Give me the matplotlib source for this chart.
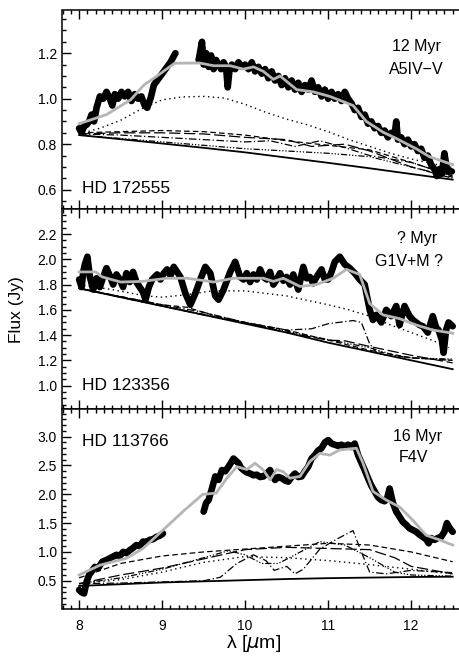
import numpy as np
import matplotlib
matplotlib.use("Agg")
import matplotlib.pyplot as plt
from matplotlib.ticker import MultipleLocator

plt.rcParams['font.family'] = ['Liberation Sans', 'DejaVu Sans']

nan = np.nan

# ---------------- HD 172555 (top) ----------------
top_wave = [8.00, 8.03, 8.06, 8.09, 8.12, 8.15, 8.18, 8.21, 8.25, 8.29, 8.33, 8.37, 8.40, 8.43,
            8.47, 8.51, 8.55, 8.59, 8.63, 8.67, 8.71, 8.75, 8.79, 8.82, 8.86, 8.90, 8.94, 8.98,
            9.02, 9.06, 9.10, 9.13, 9.16, nan,
            9.44, 9.46, 9.48, 9.50, 9.53, 9.56, 9.59, 9.62, 9.65, 9.68, 9.71, 9.74, 9.77, 9.79,
            9.81, 9.84, 9.88, 9.92, 9.96, 10.00, 10.04, 10.08, 10.12, 10.16, 10.20, 10.24, 10.28,
            10.32, 10.36, 10.40, 10.44, 10.48, 10.52, 10.56, 10.60, 10.64, 10.68, 10.72, 10.76,
            10.80, 10.84, 10.88, 10.92, 10.96, 11.00, 11.04, 11.08, 11.12, 11.16, 11.20, 11.24,
            11.28, 11.32, 11.36, 11.40, 11.44, 11.48, 11.52, 11.56, 11.60, 11.64, 11.68, 11.72,
            11.76, 11.80, 11.82, 11.84, 11.88, 11.92, 11.96, 12.00, 12.04, 12.08, 12.12, 12.16,
            12.20, 12.24, 12.28, 12.31, 12.34, 12.37, 12.40, 12.43, 12.46, 12.49]
top_flux = [0.87, 0.85, 0.88, 0.885, 0.90, 0.93, 0.90, 0.96, 1.01, 1.00, 1.03, 1.00, 0.97, 1.02,
            1.00, 1.03, 1.01, 1.03, 0.99, 1.02, 1.00, 1.01, 0.97, 0.96, 1.00, 1.06, 1.08, 1.10,
            1.12, 1.14, 1.16, 1.18, 1.20, nan,
            1.17, 1.21, 1.25, 1.15, 1.20, 1.14, 1.19, 1.13, 1.17, 1.15, 1.13, 1.16, 1.14, 1.05,
            1.12, 1.15, 1.13, 1.16, 1.14, 1.15, 1.13, 1.16, 1.12, 1.14, 1.11, 1.13, 1.09,
            1.12, 1.08, 1.10, 1.06, 1.09, 1.05, 1.08, 1.04, 1.07, 1.03, 1.06, 1.04,
            1.08, 1.03, 1.05, 1.01, 1.04, 1.00, 1.03, 1.00, 1.02, 0.99, 1.03, 1.00,
            0.98, 0.95, 0.96, 0.92, 0.93, 0.89, 0.90, 0.87, 0.88, 0.85, 0.86, 0.83,
            0.85, 0.84, 0.90, 0.82, 0.83, 0.80, 0.82, 0.79, 0.80, 0.77, 0.78, 0.74,
            0.75, 0.71, 0.69, 0.66, 0.69, 0.67, 0.76, 0.69, 0.68, 0.68]
top_model_wave = [8.0, 8.33, 8.62, 8.78, 8.94, 9.15, 9.45, 9.62, 9.82, 9.98, 10.1, 10.22, 10.34,
                  10.42, 10.62, 10.82, 11.02, 11.3, 11.46, 11.66, 11.82, 12.06, 12.22, 12.5]
top_model = [0.89, 0.93, 0.995, 1.06, 1.10, 1.156, 1.157, 1.145, 1.145, 1.13, 1.14, 1.12, 1.085,
             1.10, 1.04, 1.03, 1.01, 0.97, 0.90, 0.853, 0.825, 0.78, 0.745, 0.71]
top_solid_wave = [8.0, 8.5, 9.0, 9.5, 10.0, 10.5, 11.0, 11.5, 12.0, 12.5]
top_solid = [0.840, 0.822, 0.803, 0.784, 0.764, 0.741, 0.718, 0.694, 0.669, 0.644]
top_dot_wave = [8.0, 8.25, 8.5, 8.75, 9.0, 9.25, 9.5, 9.75, 10.0, 10.25, 10.5, 10.75, 11.0,
                11.25, 11.5, 11.75, 12.0, 12.25, 12.5]
top_dot = [0.845, 0.87, 0.905, 0.955, 0.995, 1.008, 1.01, 1.003, 0.975, 0.94, 0.91, 0.885,
           0.855, 0.82, 0.79, 0.76, 0.735, 0.715, 0.697]
top_dash_wave = [8.0, 8.5, 9.0, 9.5, 10.0, 10.5, 11.0, 11.5, 12.0, 12.5]
top_dash = [0.85, 0.855, 0.86, 0.855, 0.84, 0.815, 0.795, 0.775, 0.72, 0.66]
top_ldash_wave = [8.0, 8.5, 9.0, 9.5, 10.0, 10.5, 10.8, 11.2, 11.5, 12.0, 12.5]
top_ldash = [0.845, 0.85, 0.85, 0.845, 0.83, 0.82, 0.79, 0.80, 0.77, 0.70, 0.655]
top_dd_wave = [8.0, 8.5, 9.0, 9.5, 10.0, 10.3, 10.6, 10.9, 11.2, 11.5, 12.0, 12.5]
top_dd = [0.845, 0.84, 0.83, 0.82, 0.81, 0.815, 0.79, 0.815, 0.785, 0.75, 0.72, 0.66]
top_ddd_wave = [8.0, 8.5, 9.0, 9.5, 10.0, 10.5, 11.0, 11.5, 12.0, 12.5]
top_ddd = [0.84, 0.825, 0.81, 0.795, 0.78, 0.77, 0.76, 0.745, 0.70, 0.65]

# ---------------- HD 123356 (middle) ----------------
mid_wave = [8.00, 8.03, 8.05, 8.07, 8.10, 8.13, 8.17, 8.21, 8.25, 8.29, 8.33, 8.37, 8.41, 8.45,
            8.49, 8.53, 8.57, 8.61, 8.65, 8.69, 8.73, 8.77, 8.80, 8.84, 8.88, 8.94, 8.98, 9.02,
            9.06, 9.10, 9.14, 9.18, 9.22, 9.28, 9.34, 9.40, 9.46, 9.52, 9.58, 9.64, 9.68, 9.74,
            9.78, 9.82, 9.88, 9.94, 9.98, 10.02, 10.06, 10.10, 10.14, 10.18, 10.22, 10.26, 10.30,
            10.34, 10.38, 10.42, 10.46, 10.50, 10.54, 10.58, 10.64, 10.70, 10.74, 10.78, 10.82,
            10.86, 10.92, 10.96, 11.00, 11.04, 11.08, 11.14, 11.20, 11.26, 11.32, 11.38, 11.44,
            11.50, 11.54, 11.58, 11.64, 11.70, 11.76, 11.82, 11.86, 11.92, 11.98, 12.02, 12.06,
            12.10, 12.14, 12.20, 12.26, 12.30, 12.33, 12.37, 12.39, 12.42, 12.45, 12.50]
mid_flux = [1.84, 1.78, 1.90, 1.96, 2.02, 1.86, 1.76, 1.85, 1.78, 1.86, 1.93, 1.87, 1.80, 1.88,
            1.84, 1.78, 1.89, 1.82, 1.90, 1.82, 1.78, 1.74, 1.68, 1.78, 1.84, 1.88, 1.84, 1.89,
            1.92, 1.87, 1.94, 1.90, 1.86, 1.73, 1.64, 1.73, 1.84, 1.94, 1.89, 1.71, 1.68, 1.76,
            1.83, 1.90, 1.98, 1.86, 1.84, 1.89, 1.82, 1.88, 1.84, 1.92, 1.86, 1.84, 1.90,
            1.80, 1.84, 1.89, 1.83, 1.86, 1.80, 1.88, 1.76, 1.94, 1.85, 1.86, 1.81,
            1.86, 1.92, 1.84, 1.84, 1.90, 1.98, 2.02, 1.96, 1.93, 1.89, 1.84, 1.80,
            1.60, 1.52, 1.56, 1.50, 1.60, 1.55, 1.63, 1.48, 1.63, 1.55, 1.52, 1.50,
            1.48, 1.47, 1.42, 1.55, 1.46, 1.44, 1.36, 1.26, 1.44, 1.50, 1.47]
mid_model_wave = [8.0, 8.2, 8.28, 8.5, 8.76, 9.06, 9.3, 9.62, 9.86, 10.22, 10.34, 10.46, 10.66,
                  10.86, 11.06, 11.22, 11.38, 11.5, 11.66, 11.86, 12.06, 12.26, 12.5]
mid_model = [1.90, 1.90, 1.86, 1.82, 1.825, 1.85, 1.85, 1.82, 1.85, 1.85, 1.825, 1.85, 1.785,
             1.80, 1.85, 1.92, 1.88, 1.65, 1.56, 1.53, 1.48, 1.44, 1.415]
mid_solid_wave = [8.0, 8.5, 9.0, 9.5, 10.0, 10.5, 11.0, 11.5, 12.0, 12.5]
mid_solid = [1.77, 1.70, 1.63, 1.56, 1.49, 1.42, 1.34, 1.27, 1.20, 1.13]
mid_dot_wave = [8.0, 8.4, 8.8, 9.0, 9.3, 9.6, 10.0, 10.5, 11.0, 11.25, 11.5, 11.75, 12.0, 12.25, 12.45]
mid_dot = [1.80, 1.76, 1.71, 1.70, 1.72, 1.75, 1.75, 1.71, 1.64, 1.60, 1.55, 1.48, 1.42, 1.36, 1.30]
mid_dash_wave = [8.0, 9.0, 9.3, 9.6, 10.0, 10.5, 11.0, 11.5, 12.0, 12.5]
mid_dash = [1.77, 1.64, 1.62, 1.56, 1.50, 1.44, 1.36, 1.28, 1.22, 1.20]
mid_ldash_wave = [8.0, 9.0, 9.5, 10.0, 10.5, 11.0, 11.2, 11.5, 12.0, 12.5]
mid_ldash = [1.77, 1.63, 1.56, 1.50, 1.42, 1.36, 1.355, 1.31, 1.24, 1.18]
mid_dd_wave = [8.0, 9.0, 9.5, 10.0, 10.5, 10.8, 11.0, 11.3, 11.4, 11.5, 11.6, 12.0, 12.5]
mid_dd = [1.77, 1.64, 1.58, 1.50, 1.44, 1.45, 1.49, 1.515, 1.50, 1.33, 1.25, 1.22, 1.20]
mid_ddd_wave = [8.0, 9.0, 10.0, 10.8, 11.5, 11.8, 12.0, 12.5]
mid_ddd = [1.77, 1.63, 1.50, 1.39, 1.30, 1.24, 1.22, 1.21]

# ---------------- HD 113766 (bottom) ----------------
bot_wave = [8.00, 8.03, 8.06, 8.09, 8.12, 8.15, 8.19, 8.23, 8.28, 8.33, 8.37, 8.41, 8.45, 8.49,
            8.53, 8.57, 8.61, 8.65, 8.69, 8.73, 8.77, 8.81, 8.85, 8.89, 8.93, 8.97, 9.01, nan,
            9.50, 9.53, 9.56, 9.60, 9.64, 9.68, 9.72, 9.76, 9.80, 9.83, 9.86, 9.89, 9.92, 9.95,
            9.98, 10.02, 10.06, 10.10, 10.14, 10.18, 10.22, 10.26, 10.30, 10.33, 10.36, 10.40,
            10.44, 10.48, 10.52, 10.56, 10.60, 10.64, 10.68, 10.72, 10.76, 10.80, 10.84, 10.88,
            10.92, 10.96, 11.00, 11.04, 11.08, 11.12, 11.16, 11.20, 11.24, 11.28, 11.32, 11.36,
            11.40, 11.44, 11.48, 11.52, 11.56, 11.60, 11.64, 11.68, 11.71, 11.74, 11.78, 11.82,
            11.86, 11.90, 11.94, 11.98, 12.02, 12.06, 12.10, 12.14, 12.18, 12.21, 12.24, 12.28,
            12.32, 12.36, 12.40, 12.43, 12.46, 12.50]
bot_flux = [0.34, 0.30, 0.28, 0.48, 0.60, 0.66, 0.74, 0.72, 0.83, 0.86, 0.89, 0.92, 0.95, 0.93,
            1.00, 0.98, 1.03, 1.07, 1.12, 1.10, 1.18, 1.17, 1.21, 1.22, 1.26, 1.28, 1.32, nan,
            1.70, 1.85, 1.90, 2.10, 2.31, 2.25, 2.42, 2.40, 2.48, 2.55, 2.62, 2.58, 2.54, 2.46,
            2.42, 2.38, 2.36, 2.33, 2.34, 2.30, 2.31, 2.36, 2.42, 2.32, 2.25, 2.30,
            2.28, 2.24, 2.22, 2.30, 2.36, 2.30, 2.31, 2.40, 2.48, 2.62, 2.68, 2.76,
            2.80, 2.90, 2.94, 2.88, 2.86, 2.84, 2.86, 2.83, 2.86, 2.82, 2.88, 2.68,
            2.55, 2.42, 2.28, 2.15, 2.05, 1.95, 1.90, 1.88, 1.93, 2.10, 1.85, 1.70,
            1.61, 1.52, 1.47, 1.41, 1.38, 1.35, 1.30, 1.26, 1.22, 1.15, 1.24, 1.21,
            1.24, 1.26, 1.35, 1.50, 1.42, 1.35]
bot_model_wave = [8.0, 8.25, 8.57, 8.77, 9.01, 9.25, 9.49, 9.65, 9.78, 9.9, 10.02, 10.12, 10.22,
                  10.3, 10.38, 10.46, 10.54, 10.66, 10.78, 10.9, 11.02, 11.14, 11.34, 11.42,
                  11.54, 11.7, 11.86, 12.02, 12.18, 12.34, 12.5]
bot_model = [0.60, 0.77, 0.89, 1.06, 1.38, 1.70, 2.00, 2.02, 2.28, 2.48, 2.43, 2.54, 2.42,
             2.25, 2.43, 2.39, 2.28, 2.31, 2.57, 2.71, 2.68, 2.77, 2.80, 2.54,
             2.05, 1.90, 1.78, 1.55, 1.29, 1.21, 1.12]
bot_solid_wave = [8.0, 8.5, 9.0, 9.5, 10.0, 10.5, 11.0, 11.5, 12.0, 12.5]
bot_solid = [0.41, 0.44, 0.47, 0.49, 0.51, 0.53, 0.545, 0.555, 0.565, 0.57]
bot_dot_wave = [8.0, 8.5, 9.0, 9.5, 10.0, 10.5, 11.0, 11.5, 12.0, 12.5]
bot_dot = [0.45, 0.52, 0.65, 0.82, 0.92, 0.90, 0.85, 0.78, 0.70, 0.62]
bot_dash_wave = [8.0, 8.5, 9.0, 9.5, 10.0, 10.5, 11.0, 11.5, 12.0, 12.5]
bot_dash = [0.55, 0.80, 0.93, 1.00, 1.05, 1.10, 1.15, 1.12, 1.00, 0.83]
bot_ldash_wave = [8.0, 8.5, 9.0, 9.5, 10.0, 10.5, 11.0, 11.5, 11.8, 12.0, 12.5]
bot_ldash = [0.45, 0.60, 0.72, 0.88, 1.04, 1.08, 1.06, 1.04, 0.90, 0.75, 0.62]
bot_dd_wave = [8.0, 8.5, 9.0, 9.5, 9.7, 9.9, 10.1, 10.25, 10.35, 10.5, 10.6, 10.7, 10.9, 11.1,
               11.3, 11.4, 11.5, 11.7, 12.0, 12.5]
bot_dd = [0.45, 0.46, 0.48, 0.50, 0.56, 0.80, 0.95, 0.85, 0.68, 0.75, 0.62, 0.70, 1.05, 1.22,
          1.37, 1.00, 0.65, 0.62, 0.68, 0.64]
bot_ddd_wave = [8.0, 8.5, 9.0, 9.5, 9.8, 10.0, 10.2, 10.4, 10.6, 10.9, 11.2, 11.5, 11.8, 12.0, 12.5]
bot_ddd = [0.45, 0.55, 0.70, 0.90, 1.02, 0.95, 0.80, 0.80, 0.95, 1.18, 1.12, 0.90, 0.65, 0.60, 0.58]

W, H = 460, 662
fig = plt.figure(figsize=(W / 100, H / 100), dpi=100)

def px_text(x, y, s, **kw):
    fig.text(x / W, 1 - y / H, s, **kw)

# panel edges in pixels (top, bottom)
panels = [(10, 209), (209, 409), (409, 609)]
left, right = 62.5, 461

dash = (0, (4.5, 2.5))
ldash = (0, (9, 3))
dashdot = (0, (6, 2, 1, 2))
dashdotdot = (0, (5, 1.5, 1, 1.5, 1, 1.5, 1, 1.5))
dot = (0, (1, 2.5))

sets = [
    dict(wave=top_wave, flux=top_flux, mw=top_model_wave, m=top_model,
         comps=[(top_solid_wave, top_solid, '-', 1.3), (top_dot_wave, top_dot, dot, 1.0),
                (top_dash_wave, top_dash, dash, 0.9), (top_ldash_wave, top_ldash, ldash, 0.9),
                (top_dd_wave, top_dd, dashdot, 0.9), (top_ddd_wave, top_ddd, dashdotdot, 0.9)],
         ylim=(0.515, 1.39), major=0.2, minor=0.05),
    dict(wave=mid_wave, flux=mid_flux, mw=mid_model_wave, m=mid_model,
         comps=[(mid_solid_wave, mid_solid, '-', 1.3), (mid_dot_wave, mid_dot, dot, 1.0),
                (mid_dash_wave, mid_dash, dash, 0.9), (mid_ldash_wave, mid_ldash, ldash, 0.9),
                (mid_dd_wave, mid_dd, dashdot, 0.9), (mid_ddd_wave, mid_ddd, dashdotdot, 0.9)],
         ylim=(0.815, 2.398), major=0.2, minor=0.05),
    dict(wave=bot_wave, flux=bot_flux, mw=bot_model_wave, m=bot_model,
         comps=[(bot_solid_wave, bot_solid, '-', 1.3), (bot_dot_wave, bot_dot, dot, 1.0),
                (bot_dash_wave, bot_dash, dash, 0.9), (bot_ldash_wave, bot_ldash, ldash, 0.9),
                (bot_dd_wave, bot_dd, dashdot, 0.9), (bot_ddd_wave, bot_ddd, dashdotdot, 0.9)],
         ylim=(0.01, 3.48), major=0.5, minor=0.1),
]

for i, (s, (ptop, pbot)) in enumerate(zip(sets, panels)):
    ax = fig.add_axes([left / W, 1 - pbot / H, (right - left) / W, (pbot - ptop) / H])
    ax.plot(s['wave'], s['flux'], color='black', lw=4.8, solid_capstyle='round',
            solid_joinstyle='round', zorder=3)
    for cw, cv, ls, lw in s['comps']:
        ax.plot(cw, cv, color='black', ls=ls, lw=lw, zorder=2)
    ax.plot(s['mw'], s['m'], color='#b5b5b5', lw=2, zorder=4)
    ax.set_xlim(7.8, 12.6)
    ax.set_ylim(*s['ylim'])
    ax.xaxis.set_major_locator(MultipleLocator(1))
    ax.xaxis.set_minor_locator(MultipleLocator(0.1))
    ax.yaxis.set_major_locator(MultipleLocator(s['major']))
    ax.yaxis.set_minor_locator(MultipleLocator(s['minor']))
    ax.yaxis.set_major_formatter(matplotlib.ticker.FormatStrFormatter('%.1f'))
    ax.tick_params(which='both', direction='in', top=True, right=False, width=1,
                   labelsize=10, pad=4)
    ax.tick_params(which='major', length=6.5)
    ax.tick_params(which='minor', length=3.2)
    ax.tick_params(axis='x', pad=7)
    if i < 2:
        ax.tick_params(labelbottom=False)
    for sp in ax.spines.values():
        sp.set_linewidth(1.1)

px_text(82, 188, 'HD 172555', fontsize=12.5, va='center', ha='left')
px_text(416, 47, '12 Myr', fontsize=11.5, va='center', ha='center')
px_text(416, 69, 'A5IV\u2212V', fontsize=11.5, va='center', ha='center')
px_text(82, 385, 'HD 123356', fontsize=12.5, va='center', ha='left')
px_text(417, 238, '? Myr', fontsize=11.5, va='center', ha='center')
px_text(409, 262, 'G1V+M ?', fontsize=11.5, va='center', ha='center')
px_text(82, 441, 'HD 113766', fontsize=12.5, va='center', ha='left')
px_text(418, 437, '16 Myr', fontsize=11.5, va='center', ha='center')
px_text(413, 458, 'F4V', fontsize=11.5, va='center', ha='center')

px_text(17, 310, 'Flux (Jy)', fontsize=12.5, rotation=90, va='center', ha='center')
px_text(254, 643, 'λ [$\\mu$m]', fontsize=14, va='center', ha='center')

fig.savefig('out.png', dpi=100)
